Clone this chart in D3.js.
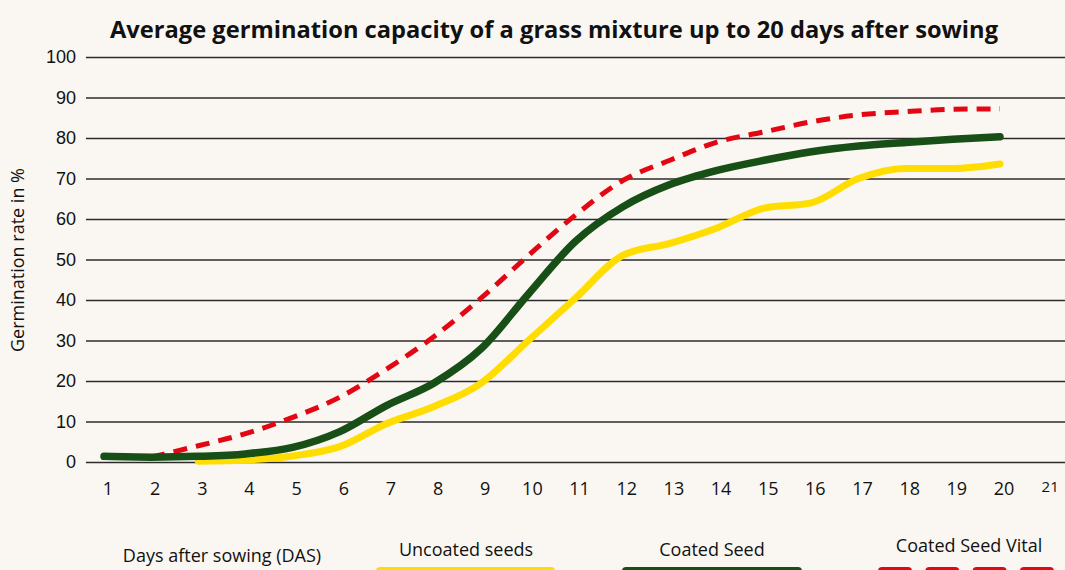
<!DOCTYPE html>
<html lang="en">
<head>
  <meta charset="UTF-8">
  <title>Average germination capacity</title>
  <script src="https://d3js.org/d3.v7.min.js"></script>
  <style>
    html, body { margin: 0; padding: 0; background: #faf7f2; }
    body { font-family: "Open Sans", "Noto Sans", sans-serif; }
  </style>
</head>
<body>
  <div id="chart"></div>
  <script>
    const days = d3.range(1, 21);
    const xTickLabels = d3.range(1, 22);
    const yTicks = [0, 10, 20, 30, 40, 50, 60, 70, 80, 90, 100];

    // germination rate in % per day
    const uncoatedDays = d3.range(3, 21);
    const uncoated = [0.2, 0.5, 1.5, 3.8, 9.5, 13.7, 19.5, 30, 40.5, 51, 54, 57.8, 62.7, 64, 70, 72.5, 72.5, 73.6];
    const coatedDays = days;
    const coated = [1.4, 1.2, 1.4, 2.0, 3.6, 7.5, 14, 19.5, 28, 41.5, 54.5, 63, 68.5, 72, 74.5, 76.6, 78, 78.9, 79.7, 80.3];
    const vitalDays = d3.range(2, 21);
    const vital = [1.2, 4, 7, 11, 16, 23, 31, 40.5, 51, 61, 69.5, 74.5, 79, 81.5, 84, 85.7, 86.5, 87.1, 87.2];

    const W = 1065, H = 570;
    const svg = d3.select("#chart").append("svg")
      .attr("width", W).attr("height", H);

    svg.append("rect").attr("width", W).attr("height", H).attr("fill", "#faf7f2");

    const x = d3.scaleLinear().domain([1, 20]).range([104, 1000]);
    const y = d3.scaleLinear().domain([0, 100]).range([462, 57]);

    // title
    svg.append("text")
      .attr("x", 554).attr("y", 38)
      .attr("text-anchor", "middle")
      .attr("textLength", 888).attr("lengthAdjust", "spacingAndGlyphs")
      .style("font-family", "'Open Sans', sans-serif")
      .style("font-weight", "bold")
      .style("font-size", "24px")
      .attr("fill", "#111")
      .text("Average germination capacity of a grass mixture up to 20 days after sowing");

    // gridlines + y labels
    const yAxis = svg.append("g").attr("transform", "translate(86,0)")
      .call(d3.axisRight(y).tickValues(yTicks).tickSize(W - 86).tickFormat(d => d));
    yAxis.select(".domain").remove();
    yAxis.selectAll(".tick line").attr("stroke", "#2b2b2b").attr("stroke-width", 1.3);
    yAxis.selectAll(".tick text")
      .attr("x", -10).attr("text-anchor", "end")
      .style("font-size", "18px").attr("fill", "#111");

    svg.append("text")
      .attr("transform", "translate(24,260) rotate(-90)")
      .attr("text-anchor", "middle")
      .style("font-size", "18px").attr("fill", "#111")
      .text("Germination rate in %");

    // x labels
    svg.append("g").selectAll("text")
      .data(xTickLabels).enter().append("text")
      .attr("x", d => (d === 21 ? x(d) + 3 : x(d) + 4))
      .attr("y", d => (d === 21 ? 492 : 495))
      .attr("text-anchor", "middle")
      .style("font-size", d => (d === 21 ? "15px" : "18px"))
      .attr("fill", "#111")
      .text(d => d);

    const line = d3.line()
      .x(d => x(d[0])).y(d => y(d[1]))
      .curve(d3.curveMonotoneX);

    svg.append("path")
      .datum(d3.zip(uncoatedDays, uncoated))
      .attr("d", line).attr("fill", "none")
      .attr("stroke", "#ffdd00").attr("stroke-width", 7)
      .attr("stroke-linecap", "round").attr("stroke-linejoin", "round");

    svg.append("path")
      .datum(d3.zip(vitalDays, vital))
      .attr("d", line).attr("fill", "none")
      .attr("stroke", "#e30613").attr("stroke-width", 5)
      .attr("stroke-dasharray", "14 9");

    svg.append("path")
      .datum(d3.zip(coatedDays, coated))
      .attr("d", line).attr("fill", "none")
      .attr("stroke", "#174f16").attr("stroke-width", 7.5)
      .attr("stroke-linecap", "round").attr("stroke-linejoin", "round");

    // legend
    svg.append("text").attr("x", 222).attr("y", 562).attr("text-anchor", "middle")
      .style("font-size", "18px").attr("fill", "#111").text("Days after sowing (DAS)");

    svg.append("text").attr("x", 466).attr("y", 556).attr("text-anchor", "middle")
      .style("font-size", "18px").attr("fill", "#111").text("Uncoated seeds");
    svg.append("rect").attr("x", 376).attr("y", 567).attr("width", 179).attr("height", 14).attr("rx", 4)
      .attr("fill", "#ffdd00");

    svg.append("text").attr("x", 712).attr("y", 556).attr("text-anchor", "middle")
      .style("font-size", "18px").attr("fill", "#111").text("Coated Seed");
    svg.append("rect").attr("x", 622).attr("y", 567).attr("width", 180).attr("height", 14).attr("rx", 4)
      .attr("fill", "#174f16");

    svg.append("text").attr("x", 969).attr("y", 552).attr("text-anchor", "middle")
      .style("font-size", "18px").attr("fill", "#111").text("Coated Seed Vital");
    svg.append("g").selectAll("rect").data([0, 1, 2, 3]).enter().append("rect")
      .attr("x", i => 878 + i * 47.3).attr("y", 567).attr("width", 34).attr("height", 14).attr("rx", 4)
      .attr("fill", "#e30613");
  </script>
</body>
</html>
